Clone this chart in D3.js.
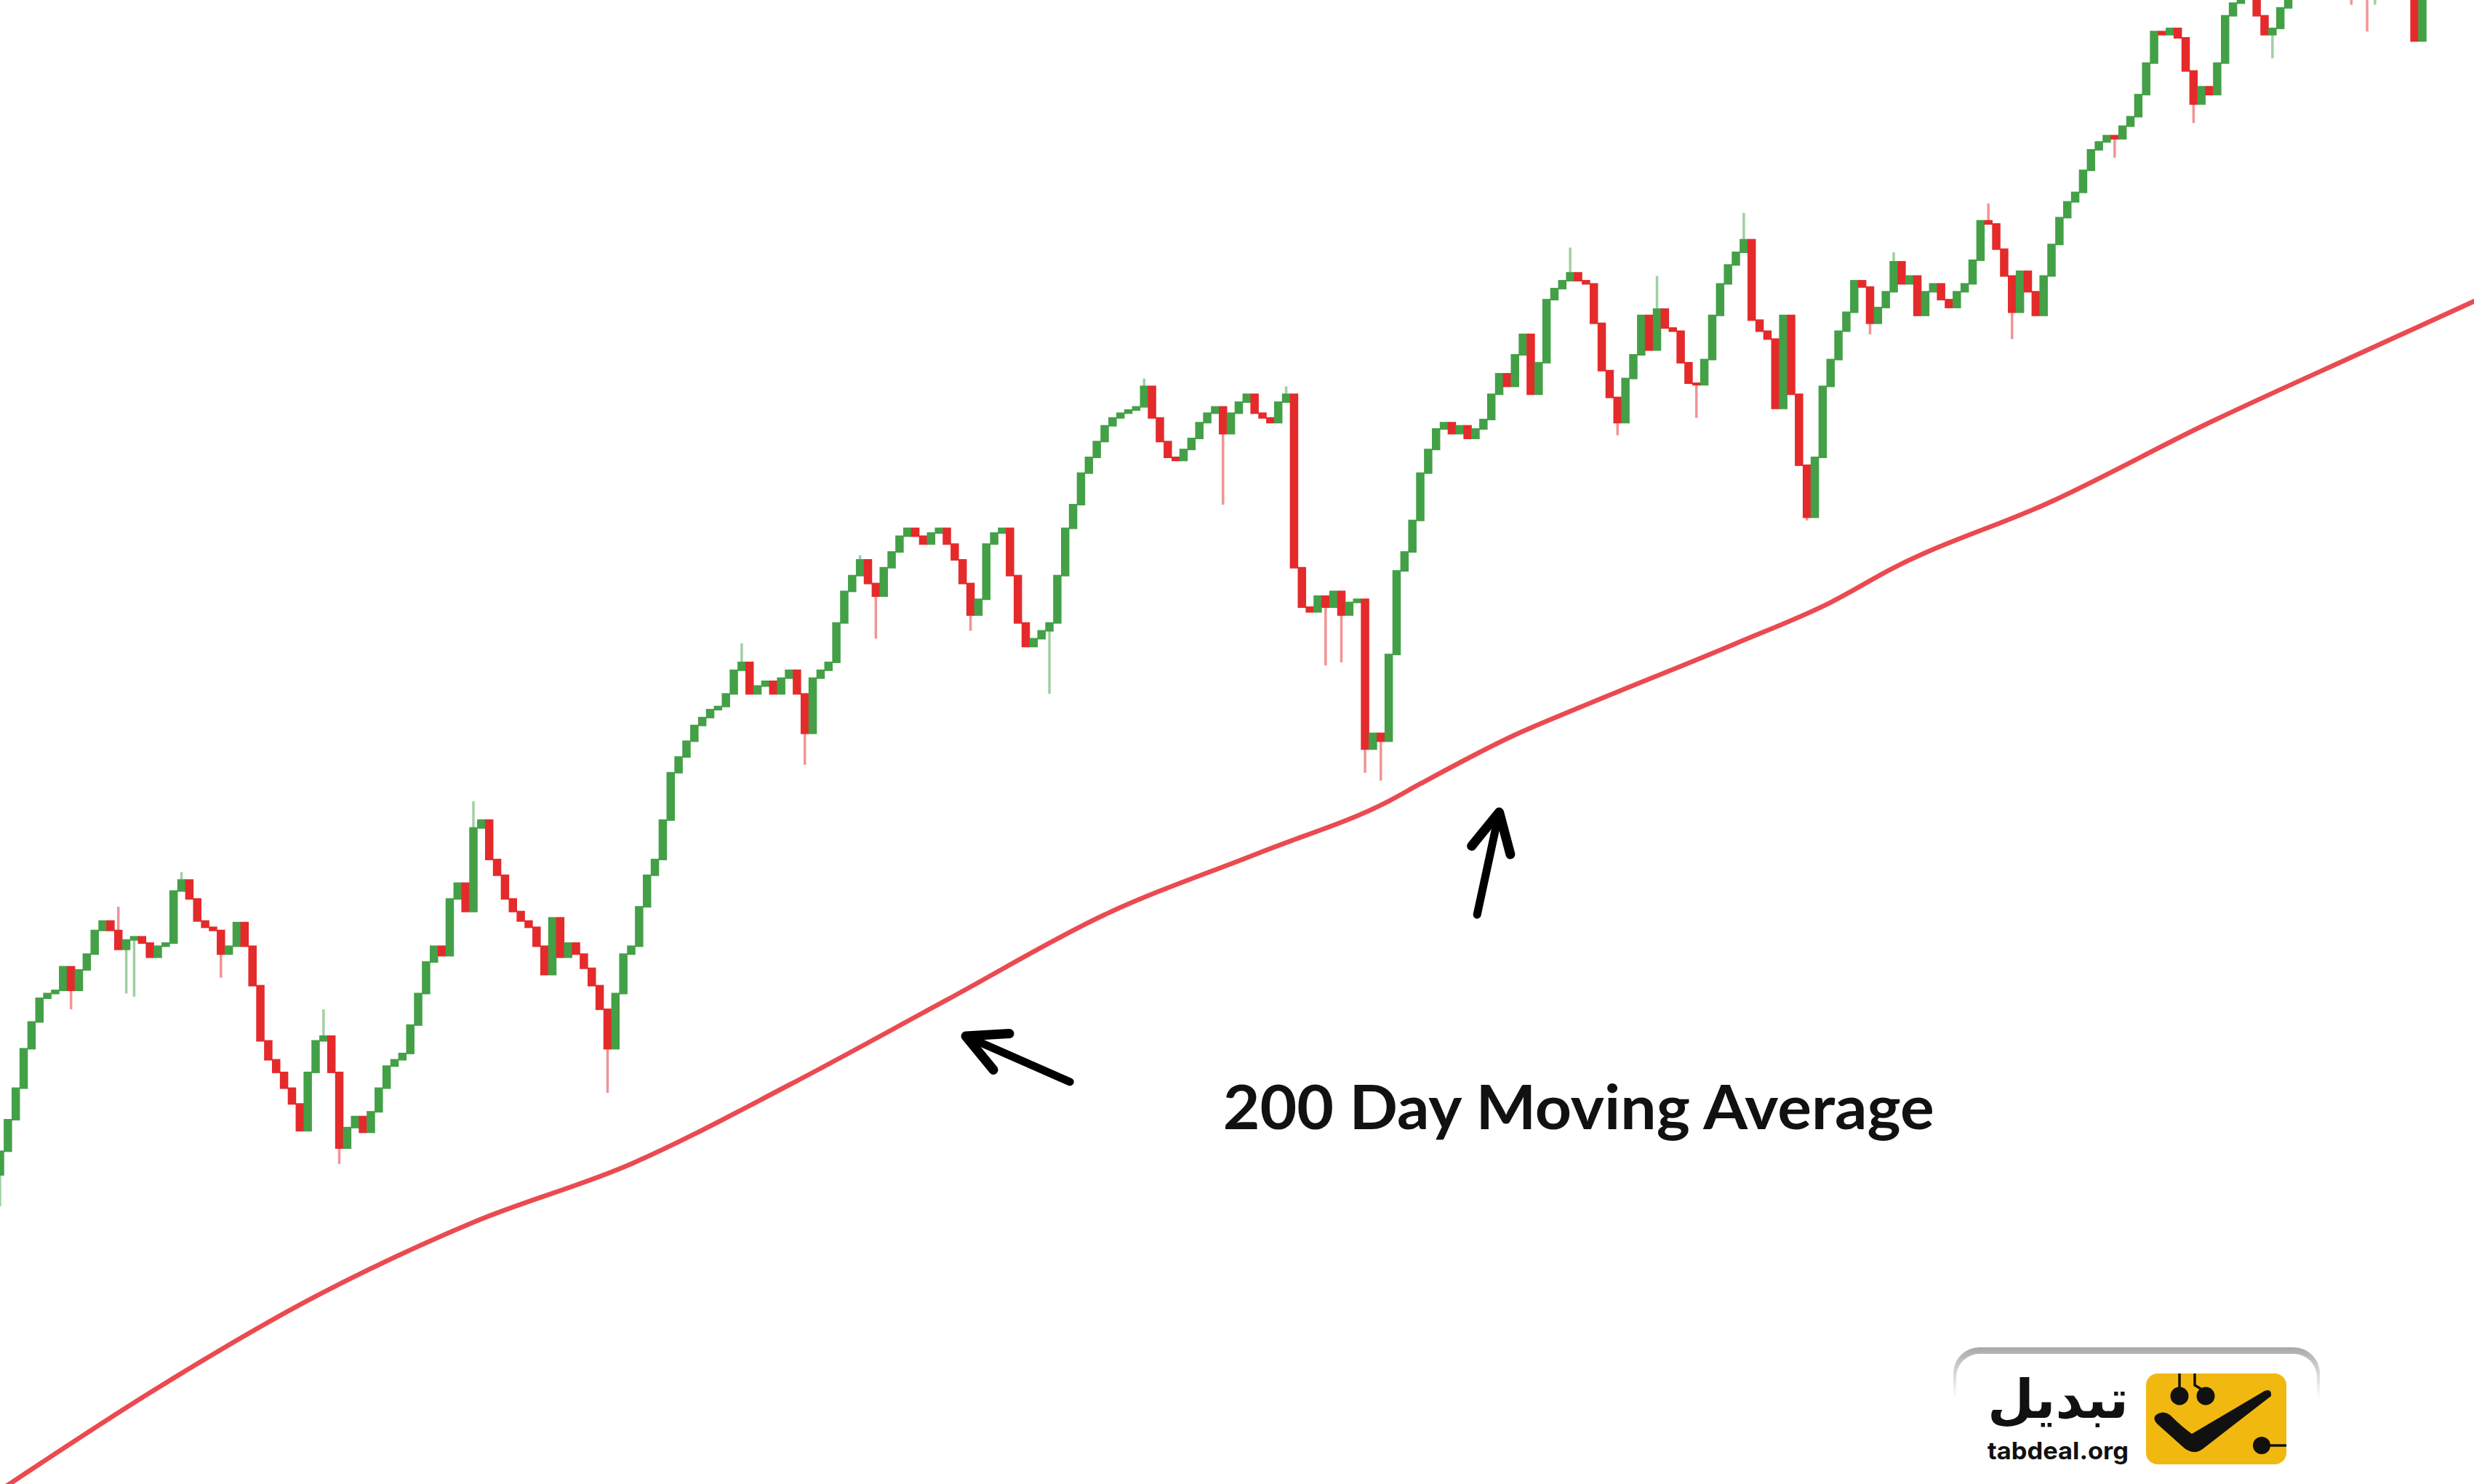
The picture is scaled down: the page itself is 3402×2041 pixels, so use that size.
<!DOCTYPE html>
<html><head><meta charset="utf-8">
<script src="https://cdn.jsdelivr.net/npm/d3@7"></script>
<style>html,body{margin:0;padding:0;background:#fff;overflow:hidden}</style>
</head><body>
<svg id="chart" width="3402" height="2041"></svg>
<script>
// ---- DATA (price units) ----
const firstOpen = 255;
const closes = [
 270,290,310,335,352,367,370,372,387,372,
 385,395,410,416,410,398,404,406,402,393,
 400,402,435,442,430,416,412,410,395,400,
 415,400,375,340,328,320,310,300,283,320,
 340,343,320,272,285,292,282,295,310,324,
 328,332,350,370,390,400,394,430,440,422,
 475,480,455,445,430,422,416,412,400,382,
 418,393,402,395,386,375,360,335,370,395,
 400,425,445,455,480,510,520,530,540,545,
 550,552,560,575,580,560,565,568,560,570,
 575,560,535,570,575,580,605,625,635,645,
 630,622,640,650,660,665,660,655,662,665,
 655,645,630,610,620,655,662,665,635,605,
 590,595,600,605,635,665,680,700,710,720,
 730,735,738,740,742,755,735,720,710,708,
 715,722,732,738,742,725,738,745,750,738,
 735,732,745,750,640,615,612,622,615,625,
 610,618,620,525,535,530,585,638,650,670,
 700,715,728,732,725,730,722,728,734,750,
 763,755,775,788,750,770,810,817,822,827,
 822,820,795,765,748,732,760,775,800,778,
 804,792,790,770,757,756,772,800,820,832,
 840,848,797,790,785,741,800,750,705,672,
 710,755,772,790,802,822,818,795,805,815,
 834,820,825,800,815,820,810,805,815,820,
 835,860,858,842,825,802,828,815,800,825,
 845,862,872,878,892,905,910,914,912,920,
 926,940,960,980,978,982,976,955,934,945,
 940,960,990,998,1005,1015,990,978,982,995,
 1005,1012,1018,1015,1022,1020,1025,1022,1018,1024,
 1010,1016,1022,1025,1020,1018,974,1015
];
// [candle index, high, low]  (null = no wick beyond body)
const wicks = [
 [0,null,235],[9,375,360],[15,425,null],[16,null,370],[17,null,368],[23,447,null],
 [28,null,380],[41,360,null],[43,null,262],[60,492,null],[77,null,307],[94,592,null],
 [102,null,515],[109,648,null],[111,null,595],[123,null,600],[133,null,560],[145,760,null],
 [155,null,680],[163,755,null],[168,null,578],[170,null,580],[173,null,510],[175,null,505],
 [199,843,null],[205,null,724],[210,825,null],[215,null,735],[221,865,null],[229,null,670],
 [237,null,788],[240,840,null],[252,871,null],[255,null,785],[268,null,900],[278,null,922],
 [288,null,963],[298,null,997],[300,null,980],[301,null,997]
];
// 200 day moving average: [candle index, value]
const maIndex = [0,3,20,40,60,80,100,120,140,160,176,180,192,200,220,232,240,260,280,300,314];
const maValue = [55,65,120,178,225,262,312,366,420,460,492,503,534,551,592,618,640,682,732,778,810];
const labelText = "200 Day Moving Average";
const logoFa = "تبدیل";
const logoEn = "tabdeal.org";

// ---- DRAW ----
const W = 3402, H = 2041;
const svg = d3.select("#chart");
const x = d3.scaleLinear().domain([0, 307]).range([0, 3331]);
const y = d3.scaleLinear().domain([59, 1000]).range([H, 0]);

const UP = "#43a047", DOWN = "#e42a2a";
const candles = closes.map((c, i) => {
  const o = i === 0 ? firstOpen : closes[i - 1];
  return {i, o, c, h: Math.max(o, c), l: Math.min(o, c)};
});
wicks.forEach(([i, h, l]) => {
  if (h != null) candles[i].h = Math.max(candles[i].h, h);
  if (l != null) candles[i].l = Math.min(candles[i].l, l);
});

const g = svg.append("g");
g.selectAll("line.wick").data(candles).join("line")
  .attr("class", "wick")
  .attr("x1", d => x(d.i)).attr("x2", d => x(d.i))
  .attr("y1", d => y(d.h)).attr("y2", d => y(d.l))
  .attr("stroke", d => d.c >= d.o ? UP : DOWN)
  .attr("stroke-opacity", 0.5)
  .attr("stroke-width", 3.5);

const bw = 11.5;
g.selectAll("rect.body").data(candles).join("rect")
  .attr("class", "body")
  .attr("x", d => x(d.i) - bw / 2)
  .attr("width", bw)
  .attr("y", d => y(Math.max(d.o, d.c)) - 1)
  .attr("height", d => Math.max(4, Math.abs(y(d.o) - y(d.c)) + 2))
  .attr("fill", d => d.c >= d.o ? UP : DOWN);

// moving average
const maData = maIndex.map((k, j) => [k, maValue[j]]);
svg.append("path")
  .datum(maData)
  .attr("fill", "none")
  .attr("stroke", "#ea4a50")
  .attr("stroke-width", 6.5)
  .attr("stroke-linecap", "round")
  .attr("d", d3.line().x(d => x(d[0])).y(d => y(d[1])).curve(d3.curveMonotoneX));

// arrows (anchored in data coordinates)
function arrow(tipI, tipP, tailI, tailP) {
  const tx = x(tipI), ty = y(tipP), sx = x(tailI), sy = y(tailP);
  const ang = Math.atan2(sy - ty, sx - tx);
  const L = 60, a = 27 * Math.PI / 180;
  const ag = svg.append("g").attr("stroke", "#000").attr("stroke-linecap", "round")
    .attr("stroke-linejoin", "round").attr("fill", "none");
  ag.append("line").attr("x1", sx).attr("y1", sy).attr("x2", tx).attr("y2", ty).attr("stroke-width", 11);
  ag.append("path").attr("stroke-width", 13)
    .attr("d", `M${tx + L * Math.cos(ang - a)},${ty + L * Math.sin(ang - a)} L${tx},${ty} L${tx + L * Math.cos(ang + a)},${ty + L * Math.sin(ang + a)}`);
}
arrow(122.4, 343, 135.6, 314);
arrow(190.0, 485, 187.2, 420);

// label
svg.append("text")
  .attr("x", x(155)).attr("y", y(284))
  .attr("font-family", "Lato, 'Open Sans', sans-serif")
  .attr("font-weight", 700)
  .attr("font-size", 84)
  .attr("fill", "#111")
  .attr("textLength", 978)
  .attr("lengthAdjust", "spacingAndGlyphs")
  .text(labelText);

// ---- logo ----
const defs = svg.append("defs");
const lg = defs.append("linearGradient").attr("id", "lgBorder").attr("x1", 0).attr("y1", 0).attr("x2", 0).attr("y2", 1);
lg.append("stop").attr("offset", 0).attr("stop-color", "#a8a8a8");
lg.append("stop").attr("offset", 0.12).attr("stop-color", "#c9c9c9");
lg.append("stop").attr("offset", 0.35).attr("stop-color", "#ffffff");
function topRounded(x0, y0, w, h, r) {
  return `M${x0},${y0 + r} A${r},${r} 0 0 1 ${x0 + r},${y0} H${x0 + w - r} A${r},${r} 0 0 1 ${x0 + w},${y0 + r} V${y0 + h} H${x0} Z`;
}
const logo = svg.append("g");
logo.append("path").attr("d", topRounded(2686, 1853, 504, 200, 36)).attr("fill", "url(#lgBorder)");
logo.append("path").attr("d", topRounded(2690, 1862, 496, 200, 32)).attr("fill", "#fff");
logo.append("rect").attr("x", 2951).attr("y", 1889).attr("width", 193).attr("height", 125).attr("rx", 16).attr("fill", "#f1b90f");
const ink = "#111";
logo.append("line").attr("x1", 2997).attr("y1", 1889).attr("x2", 2997).attr("y2", 1912).attr("stroke", ink).attr("stroke-width", 3.5);
logo.append("path").attr("d", "M3018,1889 V1905 L3031,1913").attr("stroke", ink).attr("stroke-width", 3.5).attr("fill", "none");
logo.append("circle").attr("cx", 2997).attr("cy", 1920).attr("r", 12.5).attr("fill", ink);
logo.append("circle").attr("cx", 3033).attr("cy", 1920).attr("r", 12.5).attr("fill", ink);
logo.append("path").attr("fill", ink)
  .attr("d", "M2968,1944 Q2976,1940 2984,1946 Q3000,1962 3014,1972 L3114,1913 Q3124,1909 3123,1920 L3030,1992 Q3018,2002 3004,1992 L2966,1958 Q2958,1949 2968,1944 Z");
logo.append("line").attr("x1", 3110).attr("y1", 1988).attr("x2", 3144).attr("y2", 1988).attr("stroke", ink).attr("stroke-width", 3.5);
logo.append("circle").attr("cx", 3110).attr("cy", 1988).attr("r", 12).attr("fill", ink);
logo.append("text").attr("x", 2927).attr("y", 1950).attr("text-anchor", "end")
  .attr("font-family", "'DejaVu Sans', sans-serif").attr("font-weight", 700).attr("font-size", 74).attr("fill", ink)
  .attr("textLength", 194).attr("lengthAdjust", "spacingAndGlyphs")
  .text(logoFa);
logo.append("text").attr("x", 2733).attr("y", 2007)
  .attr("font-family", "Inter, 'Open Sans', sans-serif").attr("font-weight", 700).attr("font-size", 33).attr("fill", ink)
  .attr("textLength", 194).attr("lengthAdjust", "spacingAndGlyphs")
  .text(logoEn);
</script>
</body></html>
